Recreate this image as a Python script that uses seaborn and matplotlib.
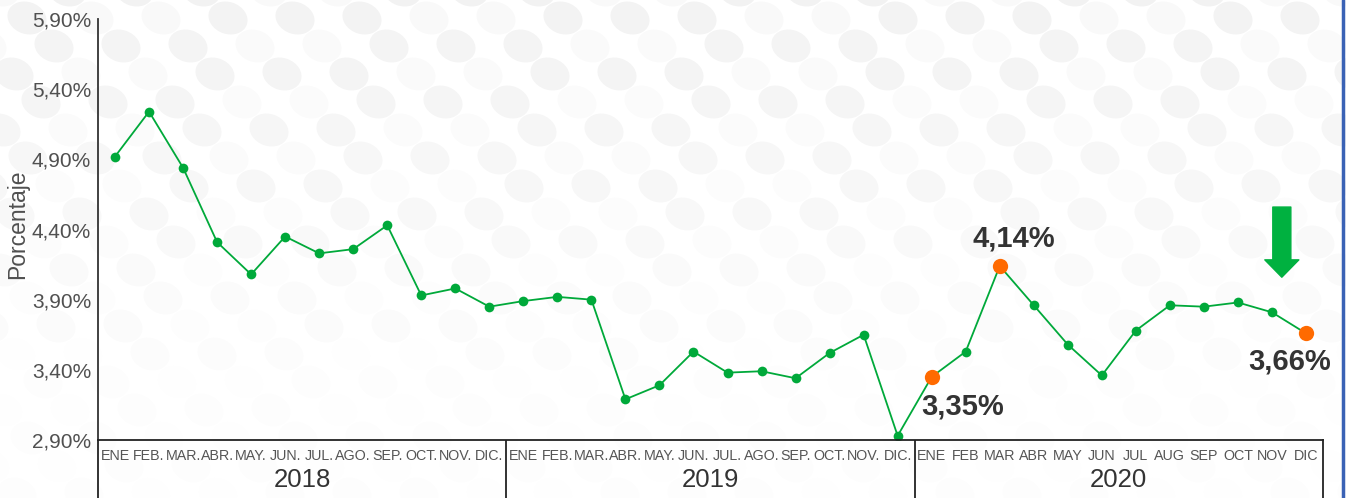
import numpy as np
import pandas as pd
import matplotlib.pyplot as plt
import seaborn as sns
from matplotlib.patches import Ellipse
from matplotlib.lines import Line2D

# Set Seaborn theme
sns.set_theme(style="white")
plt.rcParams['font.family'] = ['Liberation Sans', 'DejaVu Sans']

# Data
years = ["2018", "2019", "2020"]
months_2018 = ["ENE", "FEB.", "MAR.", "ABR.", "MAY.", "JUN.", "JUL.", "AGO.", "SEP.", "OCT.", "NOV.", "DIC."]
months_2019 = ["ENE", "FEB.", "MAR.", "ABR.", "MAY.", "JUN.", "JUL.", "AGO.", "SEP.", "OCT.", "NOV.", "DIC."]
months_2020 = ["ENE", "FEB", "MAR", "ABR", "MAY", "JUN", "JUL", "AUG", "SEP", "OCT", "NOV", "DIC"]
rate_2018 = [4.92, 5.24, 4.84, 4.31, 4.08, 4.35, 4.23, 4.26, 4.43, 3.93, 3.98, 3.85]
rate_2019 = [3.89, 3.92, 3.90, 3.19, 3.29, 3.53, 3.38, 3.39, 3.34, 3.52, 3.65, 2.93]
rate_2020 = [3.35, 3.53, 4.14, 3.86, 3.58, 3.36, 3.68, 3.86, 3.85, 3.88, 3.81, 3.66]
highlight_idx = [24, 26, 35]
highlight_labels = ["3,35%", "4,14%", "3,66%"]
y_ticks = [2.90, 3.40, 3.90, 4.40, 4.90, 5.40, 5.90]

green = "#00A93A"
orange = "#FF6A00"

months = months_2018 + months_2019 + months_2020
df = pd.DataFrame({"idx": np.arange(len(months)), "mes": months,
                   "tasa": rate_2018 + rate_2019 + rate_2020})

fig = plt.figure(figsize=(13.46, 4.98), dpi=100)

# decorative dotted background (fades towards the bottom)
bg = fig.add_axes([0, 0, 1, 1], zorder=-5)
bg.set_xlim(0, 1346)
bg.set_ylim(498, 0)
bg.axis("off")
for j in range(-2, 20):
    for i in range(-12, 24):
        cx = 67 * i + 27 * j
        cy = 28 * j - 10
        if -30 < cx < 1380 and -30 < cy < 520:
            a = max(0.007, 0.05 - 0.00011 * cy)
            if (i * 2 + j) % 5 in (0, 3):
                a *= 0.45
            bg.add_patch(Ellipse((cx, cy), 40, 32, angle=20, color="black",
                                 alpha=a, lw=0))

# main chart
ax = fig.add_axes([98 / 1346, 58 / 498, 1225 / 1346, 421 / 498])
ax.patch.set_alpha(0)
sns.lineplot(data=df, x="idx", y="tasa", color=green, linewidth=1.3,
             marker="o", markersize=7, markeredgewidth=0, ax=ax)
hl = df.iloc[highlight_idx]
ax.plot(hl["idx"], hl["tasa"], "o", color=orange, markersize=11,
        markeredgewidth=0, zorder=5)

offsets = [(31, -30), (14, 27), (-16, -28)]
for (k, r), lab, off in zip(hl.iterrows(), highlight_labels, offsets):
    ax.annotate(lab, (r["idx"], r["tasa"]), xytext=off, textcoords="offset pixels",
                ha="center", va="center", fontsize=21, fontweight="bold", color="#333333")

# green down arrow
ax.annotate("", xy=(34.29, 4.06), xytext=(34.29, 4.56),
            arrowprops=dict(arrowstyle="simple,head_length=1.25,head_width=2.45,tail_width=1.3",
                            mutation_scale=10, color="#00B140", shrinkA=0, shrinkB=0))

ax.set_xlim(-0.5, len(months) - 0.5)
ax.set_ylim(2.90, 5.90)
ax.set_yticks(y_ticks)
ax.set_yticklabels([f"{v:.2f}%".replace(".", ",") for v in y_ticks],
                   fontsize=15, color="#505050")
ax.tick_params(axis="y", length=0, pad=5)
ax.set_xticks([])
ax.set_xlabel("")
ax.set_ylabel("Porcentaje", fontsize=16.5, color="#505050")
ax.yaxis.set_label_coords(-0.056, 0.513)
for s in ["top", "right", "bottom"]:
    ax.spines[s].set_visible(False)
ax.spines["left"].set_color("#333333")
ax.spines["left"].set_linewidth(1.3)

# category box under the chart
bax = fig.add_axes([98 / 1346, -22 / 498, 1225 / 1346, 80 / 498])
bax.patch.set_alpha(0)
bax.set_xlim(-0.5, len(months) - 0.5)
bax.set_ylim(0, 1)
bax.set_xticks([])
bax.set_yticks([])
bax.spines["bottom"].set_visible(False)
for s in ["top", "left", "right"]:
    bax.spines[s].set_color("#222222")
    bax.spines[s].set_linewidth(1.3)
for g in range(1, len(years)):
    bax.axvline(g * 12 - 0.5, color="#222222", lw=1.3)
for i, m in enumerate(months):
    bax.text(i, 0.8, m, ha="center", va="center", fontsize=10.3, color="#555555")
for g, y in enumerate(years):
    bax.text(g * 12 + 5.5, 0.5, y, ha="center", va="center", fontsize=18.5, color="#333333")

# blue frame at the right
fig.add_artist(Line2D([1343 / 1346, 1343 / 1346], [0, 1], color="#3A62B5", lw=2.5))

fig.savefig("out.png", dpi=100)
